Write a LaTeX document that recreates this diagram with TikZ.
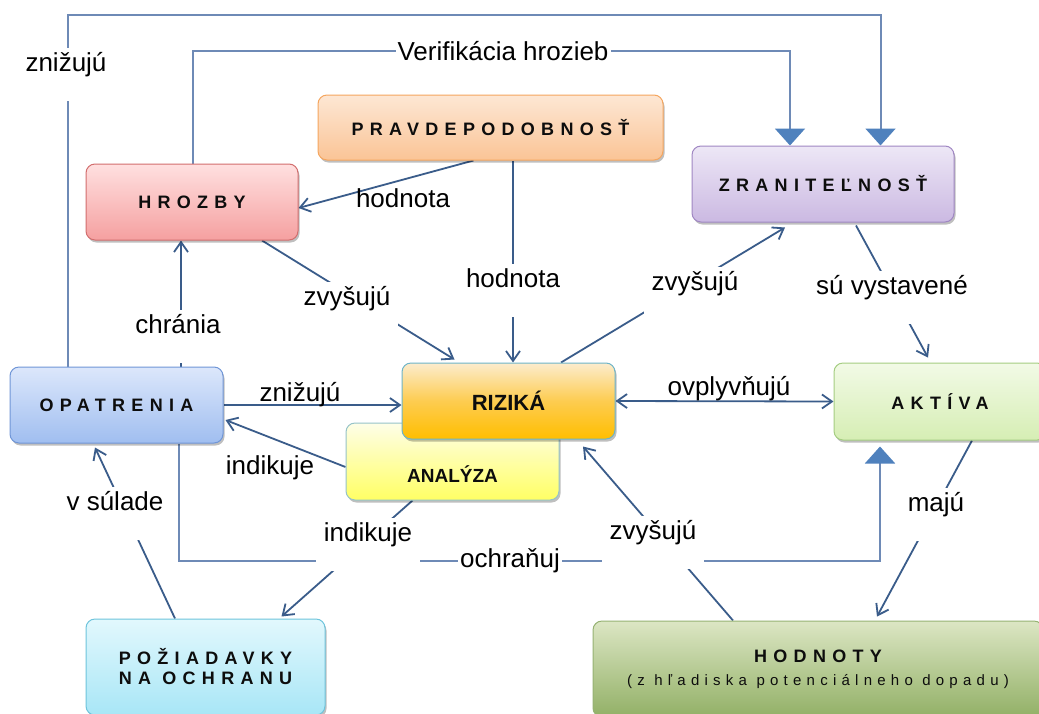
\documentclass[tikz,border=0pt]{standalone}
\usepackage{fontspec}
\setmainfont{Liberation Sans}
\newfontfamily\spacedfont[LetterSpace=35]{Liberation Sans}
\usetikzlibrary{arrows.meta,shadows,backgrounds}

\definecolor{linkblue}{RGB}{58,92,138}
\definecolor{elbowblue}{RGB}{110,138,182}
\definecolor{tipblue}{RGB}{79,129,189}
\definecolor{pravTop}{RGB}{253,231,212}
\definecolor{pravBot}{RGB}{250,196,150}
\definecolor{pravLine}{RGB}{245,166,95}
\definecolor{hrozTop}{RGB}{255,224,224}
\definecolor{hrozBot}{RGB}{245,160,160}
\definecolor{hrozLine}{RGB}{210,110,110}
\definecolor{zranTop}{RGB}{237,231,246}
\definecolor{zranBot}{RGB}{203,185,226}
\definecolor{zranLine}{RGB}{160,135,195}
\definecolor{opatTop}{RGB}{220,231,251}
\definecolor{opatBot}{RGB}{160,190,240}
\definecolor{opatLine}{RGB}{112,150,215}
\definecolor{rizTop}{RGB}{252,236,205}
\definecolor{rizMid}{RGB}{253,204,80}
\definecolor{rizBot}{RGB}{255,190,0}
\definecolor{rizLine}{RGB}{110,180,200}
\definecolor{anaTop}{RGB}{254,254,232}
\definecolor{anaBot}{RGB}{255,255,100}
\definecolor{anaLine}{RGB}{150,195,200}
\definecolor{aktTop}{RGB}{242,250,230}
\definecolor{aktBot}{RGB}{214,238,180}
\definecolor{aktLine}{RGB}{165,205,130}
\definecolor{pozTop}{RGB}{226,248,253}
\definecolor{pozBot}{RGB}{168,230,246}
\definecolor{pozLine}{RGB}{110,196,220}
\definecolor{hodTop}{RGB}{220,230,196}
\definecolor{hodBot}{RGB}{146,176,102}
\definecolor{hodLine}{RGB}{150,178,115}

\newcommand\ttlfont{\spacedfont\bfseries\fontsize{18}{20}\selectfont}
\newcommand\lblfont{\fontsize{26}{30}\selectfont}

\tikzset{
  barb/.tip={Straight Barb[length=10pt,width=14pt]},
  tri/.tip={Triangle[length=17pt,width=30pt,color=tipblue]}
}

\begin{document}
\begin{tikzpicture}[x=1pt,y=-1pt,
  concept/.style={rounded corners=9pt, line width=1pt, inner sep=0pt, align=center,
    text=black!95, font=\ttlfont, minimum height=76pt,
    drop shadow={shadow xshift=1.5pt,shadow yshift=-2.5pt,opacity=.25,fill=black}},
  lab/.style={fill=white, font=\lblfont, inner xsep=8pt, inner ysep=0pt,
    text height=23pt, text depth=30pt, anchor=base},
  labplain/.style={font=\lblfont, inner sep=0pt, anchor=base},
  labtight/.style={fill=white, font=\lblfont, inner sep=2pt},
  link/.style={linkblue, line width=1.8pt, -barb},
  elbow/.style={elbowblue, line width=2pt, -tri}]

\useasboundingbox (0,0) rectangle (1039,713);
\clip (0,0) rectangle (1039,713);

\node[concept, draw=pravLine, top color=pravTop, bottom color=pravBot,
  minimum width=345pt, minimum height=65pt] (prav) at (490.5,127.5) {PRAVDEPODOBNOSŤ};
\node[concept, draw=hrozLine, top color=hrozTop, bottom color=hrozBot,
  minimum width=212pt] (hrozby) at (192,202) {HROZBY};
\node[concept, draw=zranLine, top color=zranTop, bottom color=zranBot,
  minimum width=262pt] (zran) at (823,184) {ZRANITEĽNOSŤ};
\node[concept, draw=opatLine, top color=opatTop, bottom color=opatBot,
  minimum width=213pt] (opat) at (116.5,405) {OPATRENIA};
\node[concept, draw=anaLine, top color=anaTop, bottom color=anaBot,
  minimum width=213pt, minimum height=0pt, text height=59pt, text depth=18pt,
  font=\bfseries\fontsize{19}{22}\selectfont] (analyza) at (452.5,461.5) {ANALÝZA};
\node[concept, draw=rizLine, top color=rizTop, bottom color=rizBot, middle color=rizMid,
  minimum width=213pt, font=\bfseries\fontsize{22}{26}\selectfont] (rizika) at (508.5,401) {RIZIKÁ};
\node[concept, draw=aktLine, top color=aktTop, bottom color=aktBot,
  minimum width=212pt, minimum height=77pt] (aktiva) at (940,401.5) {AKTÍVA};
\node[concept, draw=pozLine, top color=pozTop, bottom color=pozBot,
  minimum width=239pt, minimum height=96pt] (poz) at (205.5,667) {POŽIADAVKY\\NA OCHRANU};
\node[concept, draw=hodLine, top color=hodTop, bottom color=hodBot,
  minimum width=450pt, minimum height=96pt] (hodnoty) at (818,669)
  {HODNOTY\\[3pt]{\mdseries\fontsize{15}{17}\selectfont (z hľadiska potenciálneho dopadu)}};

\node[lab] (lzniz1) at (66,71) {znižujú};
\node[labtight] (lverif) at (503,51) {Verifikácia hrozieb};
\node[labplain] (lhod1) at (403,207) {hodnota};
\node[lab] (lhod2) at (513,287) {hodnota};
\node[lab] (lzvys1) at (347,305) {zvyšujú};
\node[lab] (lzvys2) at (695,290) {zvyšujú};
\node[lab] (lsuvys) at (892,294) {sú vystavené};
\node[lab] (lchran) at (178,333) {chránia};
\node[labplain] (lzniz2) at (300,401) {znižujú};
\node[labplain] (lovpl) at (729,395) {ovplyvňujú};
\node[labplain] (lind1) at (270,474) {indikuje};
\node[lab] (lsulad) at (115,510) {v súlade};
\node[lab] (lind2) at (368,541) {indikuje};
\node[labtight] (lochr) at (510,561) {ochraňuj};
\node[lab] (lzvys3) at (653,539) {zvyšujú};
\node[lab] (lmaju) at (936,511) {majú};

\coordinate (looptop) at (67.5,15);
\coordinate (pv) at ([xshift=22.5pt]prav.south);
\coordinate (oc) at ([xshift=64.5pt]opat.north);

\begin{scope}[on background layer]
\fill[white] (0,0) rectangle (1039,713);
\draw[elbow] ([xshift=-49pt]opat.north) -- (looptop) -| ([xshift=57.5pt]zran.north);
\draw[elbow] ([xshift=1pt]hrozby.north) |- (lverif.center) -| ([xshift=-33pt]zran.north);
\draw[elbow] ([xshift=62.5pt]opat.south) |- (lochr.center) -| ([xshift=-60pt,yshift=-6pt]aktiva.south);
\draw[link] ([xshift=-17pt]prav.south) -- ([yshift=-6pt]hrozby.east);
\draw[link] (pv) -- (pv |- rizika.north);
\draw[link] ([xshift=70pt]hrozby.south) -- ([xshift=-54pt,yshift=3pt]rizika.north);
\draw[link] ([xshift=52.5pt]rizika.north) -- ([xshift=-38pt,yshift=-5pt]zran.south);
\draw[link] ([xshift=33pt,yshift=-3pt]zran.south) -- ([xshift=-12pt,yshift=5pt]aktiva.north);
\draw[link] (oc) -- (oc |- hrozby.south);
\draw[link] (opat.east) -- (opat.east -| rizika.west);
\draw[link] ([yshift=-5.5pt]analyza.west) -- ([xshift=2pt,yshift=-15pt]opat.east);
\draw[link] ([xshift=-40pt]analyza.south) -- ([xshift=76pt,yshift=2pt]poz.north);
\draw[link] ([xshift=-30.5pt]poz.north) -- ([xshift=-21.5pt,yshift=-4pt]opat.south);
\draw[link, barb-barb] (rizika.east) -- (aktiva.west);
\draw[link] ([xshift=-85pt]hodnoty.north) -- ([xshift=74.5pt,yshift=-7pt]rizika.south);
\draw[link] ([xshift=32pt]aktiva.south) -- ([xshift=59pt,yshift=4pt]hodnoty.north);
\end{scope}

\end{tikzpicture}
\end{document}
